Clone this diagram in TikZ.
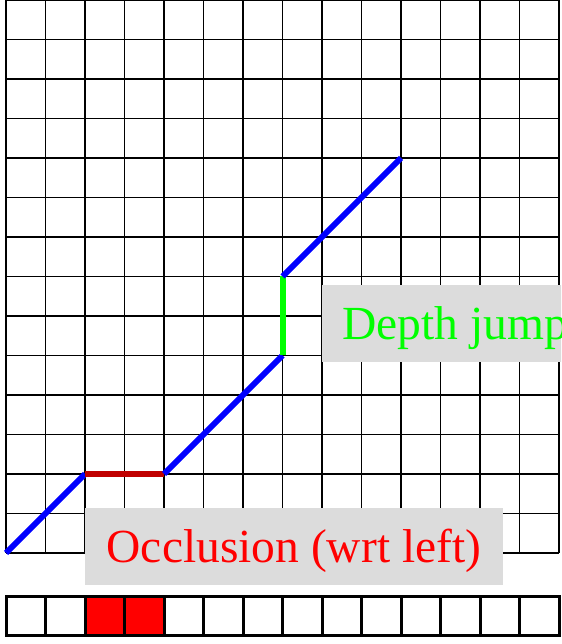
\documentclass[tikz,border=0pt]{standalone}
\usepackage{fontspec}
\setmainfont{Liberation Serif}
\definecolor{segblue}{RGB}{0, 0, 255}
\definecolor{occred}{RGB}{192, 0, 0}
\definecolor{jumpgreen}{RGB}{0, 255, 0}
\definecolor{boxgray}{RGB}{220, 220, 220}
\usetikzlibrary{positioning}
\tikzset{
    segline/.style={line width=6pt},
    labelbox/.style={fill=boxgray, inner xsep=20pt, inner ysep=0pt, minimum height=77pt,
        text height=40pt, text depth=7pt, font=\fontsize{47.5}{57}\selectfont},
}

\begin{document}
\begin{tikzpicture}[x=39.5pt, y=39.5pt]
    \useasboundingbox (-0.152,-2.304) rectangle (14.051,14.0);
    \clip (-0.152,-2.304) rectangle (14.051,14.0);

    % Pixel grid
    \draw[line width=1.4pt, step=1] (0,0) grid (14,14);

    % Scanline strip (left image)
    \foreach \i in {2,3} {
        \fill[red] (\i,-2.1) rectangle ++(1,1);
    }
    \foreach \i in {0,...,13} {
        \draw[line width=3pt] (\i,-2.1) rectangle ++(1,1);
    }

    % Disparity path
    \coordinate (p0) at (0,0);
    \coordinate (p1) at (2,2);
    \coordinate (p2) at (4,2);
    \coordinate (p3) at (7,5);
    \coordinate (p4) at (7,7);
    \coordinate (p5) at (10,10);
    \draw[segline, segblue] (p0) -- (p1);
    \draw[segline, occred] (p1) -- (p2);
    \draw[segline, segblue] (p2) -- (p3);
    \draw[segline, jumpgreen] (p3) -- (p4);
    \draw[segline, segblue] (p4) -- (p5);

    % Labels
    \node[labelbox, anchor=west, text=jumpgreen] (jump) at (8,5.81) {Depth jump};
    \node[labelbox, minimum width=418pt, text=red] (occl) at (7.29,0.165) {Occlusion (wrt left)};
\end{tikzpicture}
\end{document}
